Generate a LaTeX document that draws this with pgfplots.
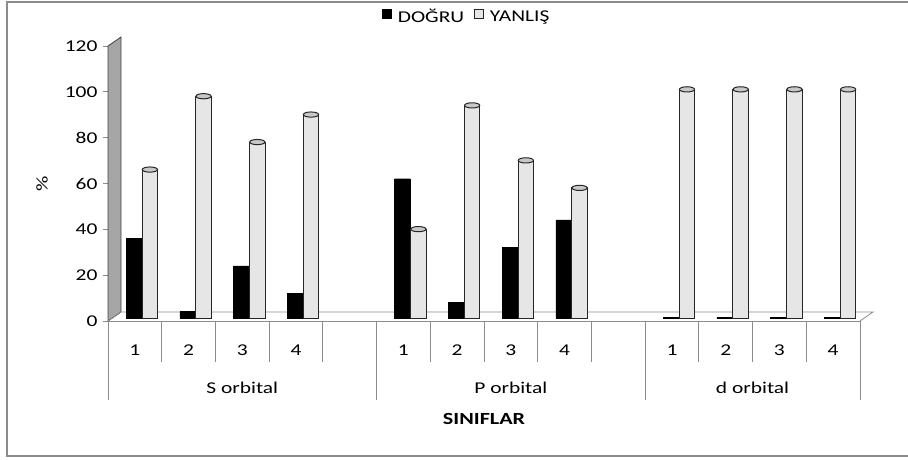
\documentclass[border=0pt]{standalone}
\usepackage{fontspec}
\setmainfont{Carlito}[FakeStretch=1.3]
\usepackage{pgfplots}
\pgfplotsset{compat=1.18}
\definecolor{wallgray}{HTML}{A6A6A6}
\definecolor{bargray}{HTML}{E6E6E6}
\definecolor{topgray}{HTML}{C8C8C8}
\definecolor{framegray}{HTML}{8C8C8C}
\pgfdeclareplotmark{cyltop}{%
  \pgfpathellipse{\pgfqpoint{15pt}{0pt}}{\pgfqpoint{7.6pt}{0pt}}{\pgfqpoint{0pt}{2.6pt}}%
  \pgfusepathqfillstroke}
\begin{document}
\begin{tikzpicture}[font=\fontsize{16.5}{19}\selectfont]
\useasboundingbox (0pt,0pt) rectangle (908pt,-459pt);
\draw[framegray, line width=1.2pt] (920pt,-2pt) -- (7pt,-2pt) -- (7pt,-456pt) -- (920pt,-456pt);
\begin{axis}[
  at={(108pt,-321pt)}, anchor=south west,
  scale only axis, width=752pt, height=275pt,
  clip=false,
  xmin=-0.5, xmax=13.5, ymin=0, ymax=120,
  ytick={0,20,...,120},
  xtick={0,1,2,3,5,6,7,8,10,11,12,13},
  xticklabels={1,2,3,4,1,2,3,4,1,2,3,4},
  axis x line=bottom, axis y line=left,
  axis line style={-, draw=framegray, line width=0.8pt},
  y tick style={draw=framegray, line width=0.8pt},
  x tick style={draw=none},
  tick align=outside, major tick length=5pt,
  /pgf/number format/assume math mode=true,
  tick label style={font=\fontsize{16.5}{19}\selectfont},
  xticklabel style={anchor=base, yshift=-29pt},
  yticklabel style={xshift=-2pt},
  legend style={at={(axis description cs:0.477,1.107)}, anchor=center, draw=none, fill=none,
    legend columns=2, font=\fontsize{16.5}{19}\selectfont,
    /tikz/every even column/.append style={column sep=8pt},
    /tikz/every odd column/.append style={column sep=4pt}},
  legend image code/.code={\draw[#1, line width=0.8pt, mark=none] (0pt,-4.5pt) rectangle (9pt,4.5pt);},
]
% 3D wall and floor
\filldraw[fill=wallgray, draw=black!75, line width=0.8pt]
  (axis cs:-0.5,0) -- (axis cs:-0.5,120) -- ([shift={(13pt,9pt)}]axis cs:-0.5,120)
  -- ([shift={(13pt,9pt)}]axis cs:-0.5,0) -- cycle;
\draw[framegray, line width=0.8pt]
  (axis cs:-0.5,0) -- ([shift={(13pt,9pt)}]axis cs:-0.5,0) -- ([shift={(13pt,9pt)}]axis cs:13.5,0) -- (axis cs:13.5,0);
% category separators
\pgfplotsinvokeforeach{0.5,1.5,2.5,3.5,5.5,6.5,7.5,8.5,10.5,11.5,12.5}{
  \draw[framegray, line width=0.8pt] (axis cs:#1,0) -- ++(0pt,-41pt);
}
\pgfplotsinvokeforeach{-0.5,4.5,9.5,13.5}{
  \draw[framegray, line width=0.8pt] (axis cs:#1,0) -- ++(0pt,-79pt);
}
\node at ([yshift=-67pt]axis cs:2,0) {S orbital};
\node at ([yshift=-67pt]axis cs:7,0) {P orbital};
\node at ([yshift=-67pt]axis cs:11.5,0) {d orbital};
\node[font=\fontsize{17}{19}\selectfont\bfseries] at ([yshift=-98pt]axis cs:6.5,0) {SINIFLAR};
\node[rotate=90] at ([xshift=-66pt]axis cs:-0.5,60) {\%};

\addplot[ybar, bar width=15.5pt, bar shift=-1pt, fill=black, draw=black, yshift=2.5pt] coordinates {
  (0,35) (1,3) (2,23) (3,11) (5,61) (6,7) (7,31) (8,43) (10,0.6) (11,0.6) (12,0.6) (13,0.6)};
\addlegendentry{DOĞRU}
\addplot[ybar, bar width=15.5pt, bar shift=15pt, fill=bargray, draw=black!85, line width=1pt, yshift=2.5pt,
  mark=cyltop, mark options={fill=topgray, draw=black!85, line width=1pt}] coordinates {
  (0,65) (1,97) (2,77) (3,89) (5,39) (6,93) (7,69) (8,57) (10,100) (11,100) (12,100) (13,100)};
\addlegendentry{YANLIŞ}
\end{axis}
\end{tikzpicture}
\end{document}
